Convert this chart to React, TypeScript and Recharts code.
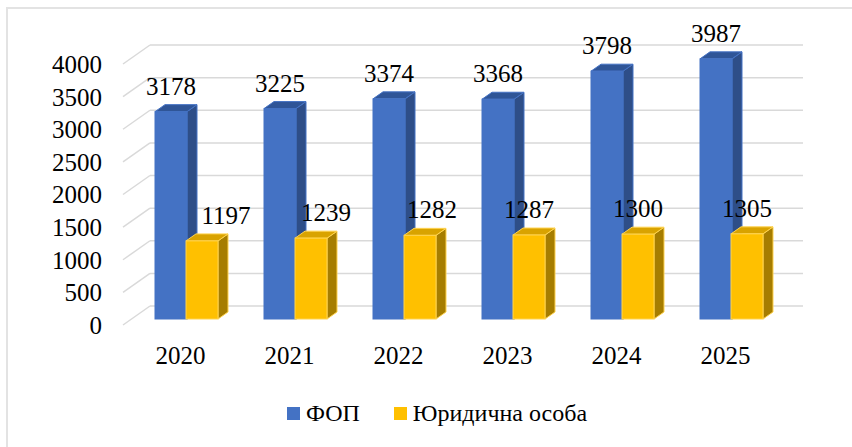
import { Bar, BarChart, CartesianGrid, LabelList, Legend, XAxis, YAxis } from "recharts";

const years = ["2020", "2021", "2022", "2023", "2024", "2025"];
const fopValues = [3178, 3225, 3374, 3368, 3798, 3987];
const legalValues = [1197, 1239, 1282, 1287, 1300, 1305];
const yTicks = [0, 500, 1000, 1500, 2000, 2500, 3000, 3500, 4000];

// labels of the yellow series were nudged right in the original to clear the blue bars
const legalLabelShift = [24, 15, 12, 0, 0, 0];

const chartData = years.map((year, i) => ({
  year,
  fop: fopValues[i],
  legal: legalValues[i],
}));

const font = "'Liberation Serif', 'Times New Roman', serif";
const depthX = 10;
const depthY = 7;

const palette = {
  fop: { front: "#4472C4", top: "#2F5597", side: "#2E4E88", edge: "#4472C4" },
  legal: { front: "#FFC000", top: "#D9A300", side: "#A67D00", edge: "#FFD34F" },
};

type Colors = { front: string; top: string; side: string; edge: string };

function make3dBar(c: Colors) {
  return (props: any) => {
    const { x, y, width, height } = props;
    if (height == null || height <= 0) return <g />;
    const r = x + width;
    const b = y + height;
    return (
      <g>
        <polygon
          points={`${r},${y} ${r + depthX},${y - depthY} ${r + depthX},${b - depthY} ${r},${b}`}
          fill={c.side}
          stroke={c.edge}
          strokeWidth={1}
        />
        <polygon
          points={`${x},${y} ${x + depthX},${y - depthY} ${r + depthX},${y - depthY} ${r},${y}`}
          fill={c.top}
          stroke={c.edge}
          strokeWidth={1}
        />
        <rect x={x} y={y} width={width} height={height} fill={c.front} stroke={c.edge} strokeWidth={1} />
      </g>
    );
  };
}

function backWallLine(props: any) {
  const { x1, x2, y1, key } = props;
  return (
    <g key={key}>
      <line x1={x1 - 9} y1={y1 + 6} x2={x1 + 18} y2={y1 - 13} stroke="#D9D9D9" strokeWidth={1.5} />
      <line x1={x1 + 18} y1={y1 - 13} x2={x2 + 17} y2={y1 - 13} stroke="#D9D9D9" strokeWidth={1.5} />
    </g>
  );
}

function makeLabel(shifts?: number[]) {
  return (props: any) => {
    const { x, y, width, value, index } = props;
    const dx = shifts ? shifts[index] : 0;
    return (
      <text
        x={x + width / 2 + dx}
        y={y - 17}
        textAnchor="middle"
        fontFamily={font}
        fontSize={25}
        fill="#000"
      >
        {value}
      </text>
    );
  };
}

function LegendContent(props: any) {
  const items = props.payload || [];
  return (
    <div
      style={{
        display: "flex",
        justifyContent: "center",
        alignItems: "center",
        paddingLeft: 88,
        fontFamily: font,
        fontSize: 24,
        color: "#000",
        height: 40,
      }}
    >
      {items.map((item: any, i: number) => (
        <div key={i} style={{ display: "flex", alignItems: "center", marginRight: i === 0 ? 34 : 0 }}>
          <span style={{ width: 13, height: 13, background: item.color, marginRight: 6, display: "inline-block" }} />
          <span>{item.value}</span>
        </div>
      ))}
    </div>
  );
}

export default function App() {
  return (
    <div
      style={{
        position: "absolute",
        left: 0,
        top: 0,
        width: 852,
        height: 447,
        overflow: "hidden",
        background: "#fff",
      }}
    >
      <div
        style={{
          position: "absolute",
          left: 6,
          top: 7,
          width: 900,
          height: 500,
          border: "2px solid #E3E3E3",
        }}
      />
      <BarChart
        width={852}
        height={447}
        data={chartData}
        margin={{ top: 58, right: 66, bottom: 48, left: 0 }}
        barSize={32}
        barGap={-1}
        style={{ position: "absolute", left: 0, top: 0 }}
      >
        <CartesianGrid vertical={false} horizontal={backWallLine} />
        <XAxis
          dataKey="year"
          height={40}
          axisLine={false}
          tickLine={false}
          tickSize={0}
          tickMargin={27}
          dx={-6}
          tick={{ fill: "#000", fontFamily: font, fontSize: 25 }}
        />
        <YAxis
          width={132}
          domain={[0, 4000]}
          ticks={yTicks}
          interval={0}
          axisLine={false}
          tickLine={false}
          tickSize={0}
          tickMargin={30}
          dy={6}
          tick={{ fill: "#000", fontFamily: font, fontSize: 25 }}
        />
        <Legend
          verticalAlign="bottom"
          content={LegendContent}
          wrapperStyle={{ bottom: 14, height: 40 }}
        />
        <Bar dataKey="fop" name="ФОП" fill={palette.fop.front} shape={make3dBar(palette.fop)} isAnimationActive={false}>
          <LabelList dataKey="fop" content={makeLabel()} />
        </Bar>
        <Bar
          dataKey="legal"
          name="Юридична особа"
          fill={palette.legal.front}
          shape={make3dBar(palette.legal)}
          isAnimationActive={false}
        >
          <LabelList dataKey="legal" content={makeLabel(legalLabelShift)} />
        </Bar>
      </BarChart>
    </div>
  );
}
